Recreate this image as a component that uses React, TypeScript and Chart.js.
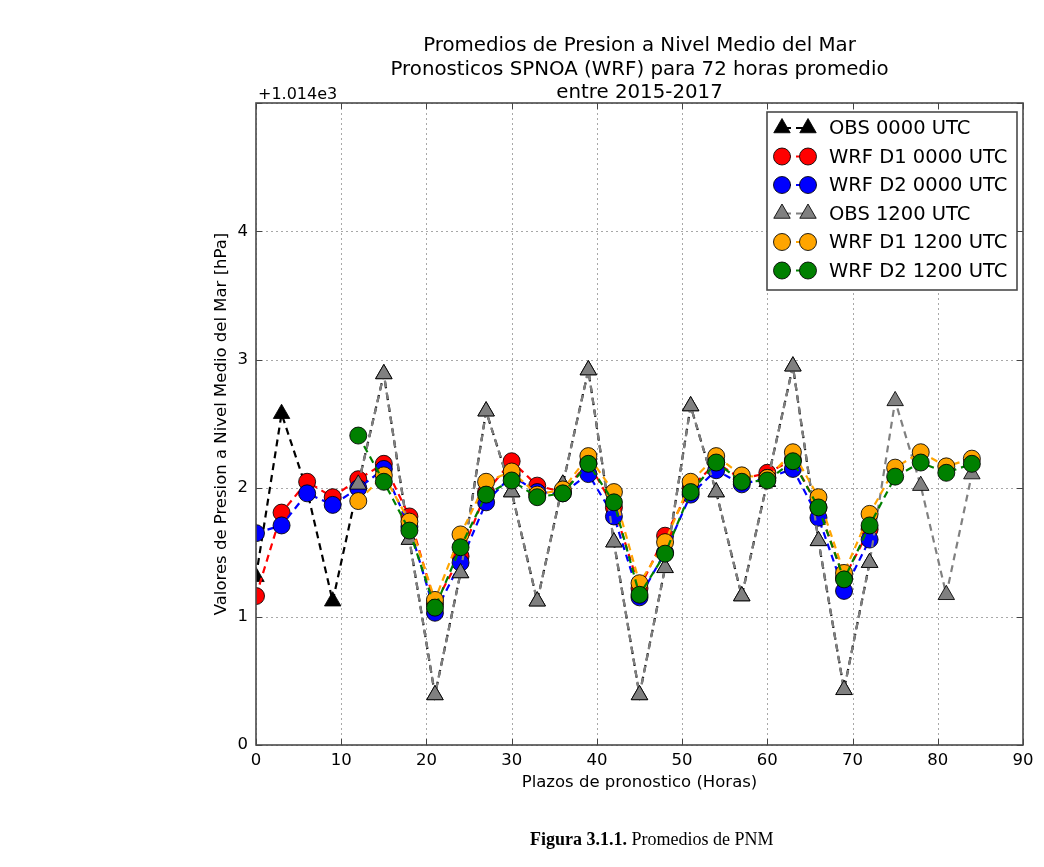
import React, { useEffect, useRef } from "react";
import { Chart, registerables } from "chart.js";
Chart.register(...registerables);

const TITLE_LINES = [
  "Promedios de Presion a Nivel Medio del Mar",
  "Pronosticos SPNOA (WRF) para 72 horas promedio",
  "entre 2015-2017",
];
const X_LABEL = "Plazos de pronostico (Horas)";
const Y_LABEL = "Valores de Presion a Nivel Medio del Mar [hPa]";
const OFFSET_TEXT = "+1.014e3";
const CAPTION_BOLD = "Figura 3.1.1.";
const CAPTION_TEXT = " Promedios de PNM";

const X_MIN = 0;
const X_MAX = 90;
const X_STEP = 10;
const Y_MIN = 0;
const Y_MAX = 5;
const Y_STEP = 1;
const Y_TICK_LABELS = ["0", "1", "2", "3", "4", ""];

const HOURS_00 = [0, 3, 6, 9, 12, 15, 18, 21, 24, 27, 30, 33, 36, 39, 42, 45, 48, 51, 54, 57, 60, 63, 66, 69, 72];
const HOURS_12 = [12, 15, 18, 21, 24, 27, 30, 33, 36, 39, 42, 45, 48, 51, 54, 57, 60, 63, 66, 69, 72, 75, 78, 81, 84];

const OBS_00 = [1.31, 2.58, 1.98, 1.12, 2.03, 2.89, 1.6, 0.39, 1.34, 2.6, 1.97, 1.12, 2.03, 2.92, 1.58, 0.39, 1.38, 2.64, 1.97, 1.16, 2.05, 2.95, 1.59, 0.43, 1.42];
const WRF_D1_00 = [1.16, 1.81, 2.05, 1.93, 2.07, 2.19, 1.78, 1.1, 1.47, 1.97, 2.21, 2.02, 1.97, 2.2, 1.85, 1.22, 1.63, 2.0, 2.2, 2.07, 2.12, 2.22, 1.85, 1.3, 1.68];
const WRF_D2_00 = [1.65, 1.71, 1.96, 1.87, 2.0, 2.15, 1.7, 1.03, 1.42, 1.89, 2.1, 1.97, 1.96, 2.11, 1.78, 1.15, 1.5, 1.95, 2.14, 2.03, 2.08, 2.15, 1.77, 1.2, 1.6];
const OBS_12 = [2.03, 2.89, 1.6, 0.39, 1.34, 2.6, 1.97, 1.12, 2.03, 2.92, 1.58, 0.39, 1.38, 2.64, 1.97, 1.16, 2.05, 2.95, 1.59, 0.43, 1.42, 2.68, 2.02, 1.17, 2.11];
const WRF_D1_12 = [1.9, 2.1, 1.74, 1.13, 1.64, 2.05, 2.13, 1.95, 1.99, 2.25, 1.97, 1.26, 1.58, 2.05, 2.25, 2.1, 2.08, 2.28, 1.93, 1.34, 1.8, 2.16, 2.28, 2.17, 2.23];
const WRF_D2_12 = [2.41, 2.05, 1.67, 1.07, 1.54, 1.95, 2.06, 1.93, 1.96, 2.19, 1.89, 1.17, 1.49, 1.97, 2.2, 2.05, 2.06, 2.21, 1.85, 1.29, 1.71, 2.09, 2.2, 2.12, 2.19];

const SERIES = [
  { label: "OBS 0000 UTC", hours: HOURS_00, values: OBS_00, color: "#000000", shape: "triangle" },
  { label: "WRF D1 0000 UTC", hours: HOURS_00, values: WRF_D1_00, color: "#ff0000", shape: "circle" },
  { label: "WRF D2 0000 UTC", hours: HOURS_00, values: WRF_D2_00, color: "#0000ff", shape: "circle" },
  { label: "OBS 1200 UTC", hours: HOURS_12, values: OBS_12, color: "#808080", shape: "triangle" },
  { label: "WRF D1 1200 UTC", hours: HOURS_12, values: WRF_D1_12, color: "#ffa500", shape: "circle" },
  { label: "WRF D2 1200 UTC", hours: HOURS_12, values: WRF_D2_12, color: "#008000", shape: "circle" },
];

const FONT = "'DejaVu Sans', sans-serif";
const CIRCLE_R = 8.5;
const TRI_R = 9.5;
const DASH = [7, 5];

function drawMarker(ctx: CanvasRenderingContext2D, shape: string, x: number, y: number, color: string) {
  ctx.save();
  ctx.fillStyle = color;
  ctx.strokeStyle = "rgba(0,0,0,0.85)";
  ctx.lineWidth = 1;
  ctx.setLineDash([]);
  ctx.beginPath();
  if (shape === "circle") {
    ctx.arc(x, y, CIRCLE_R, 0, Math.PI * 2);
  } else {
    const r = TRI_R;
    for (let k = 0; k < 3; k++) {
      const a = (k * 2 * Math.PI) / 3;
      const px = x + Math.sin(a) * r;
      const py = y - Math.cos(a) * r;
      if (k === 0) ctx.moveTo(px, py);
      else ctx.lineTo(px, py);
    }
    ctx.closePath();
  }
  ctx.fill();
  ctx.stroke();
  ctx.restore();
}

const decorPlugin = {
  id: "decor",
  beforeDatasetsDraw(chart: any) {
    const { ctx, chartArea: a, scales } = chart;
    ctx.save();
    ctx.strokeStyle = "#a8a8a8";
    ctx.lineWidth = 1;
    ctx.setLineDash([2, 3]);
    scales.x.ticks.forEach((t: any) => {
      const px = Math.round(scales.x.getPixelForValue(t.value)) + 0.5;
      ctx.beginPath();
      ctx.moveTo(px, a.top);
      ctx.lineTo(px, a.bottom);
      ctx.stroke();
    });
    scales.y.ticks.forEach((t: any) => {
      const py = Math.round(scales.y.getPixelForValue(t.value)) + 0.5;
      ctx.beginPath();
      ctx.moveTo(a.left, py);
      ctx.lineTo(a.right, py);
      ctx.stroke();
    });
    ctx.restore();
  },
  afterDraw(chart: any) {
    const { ctx, chartArea: a, scales } = chart;
    ctx.save();
    // inward ticks
    ctx.strokeStyle = "#444";
    ctx.lineWidth = 1;
    ctx.setLineDash([]);
    const TL = 6;
    scales.x.ticks.forEach((t: any) => {
      const px = Math.round(scales.x.getPixelForValue(t.value)) + 0.5;
      ctx.beginPath();
      ctx.moveTo(px, a.bottom);
      ctx.lineTo(px, a.bottom - TL);
      ctx.moveTo(px, a.top);
      ctx.lineTo(px, a.top + TL);
      ctx.stroke();
    });
    scales.y.ticks.forEach((t: any) => {
      const py = Math.round(scales.y.getPixelForValue(t.value)) + 0.5;
      ctx.beginPath();
      ctx.moveTo(a.left, py);
      ctx.lineTo(a.left + TL, py);
      ctx.moveTo(a.right, py);
      ctx.lineTo(a.right - TL, py);
      ctx.stroke();
    });
    // frame
    ctx.strokeStyle = "#4a4a4a";
    ctx.lineWidth = 1.6;
    ctx.strokeRect(a.left, a.top, a.right - a.left, a.bottom - a.top);

    // title
    ctx.fillStyle = "#000";
    ctx.textAlign = "center";
    ctx.textBaseline = "middle";
    ctx.font = `19.8px ${FONT}`;
    const cx = (a.left + a.right) / 2;
    TITLE_LINES.forEach((line, i) => ctx.fillText(line, cx, 46 + i * 23.5));

    // axis labels
    ctx.font = `16.5px ${FONT}`;
    ctx.fillText(X_LABEL, cx, 783);
    ctx.save();
    ctx.translate(222, (a.top + a.bottom) / 2);
    ctx.rotate(-Math.PI / 2);
    ctx.fillText(Y_LABEL, 0, 0);
    ctx.restore();

    // offset text
    ctx.textAlign = "left";
    ctx.font = `16px ${FONT}`;
    ctx.fillText(OFFSET_TEXT, a.left + 2, 95);

    // legend
    const lx = 767, ly = 112, lw = 250, lh = 178;
    ctx.fillStyle = "#fff";
    ctx.fillRect(lx, ly, lw, lh);
    ctx.strokeStyle = "#4a4a4a";
    ctx.lineWidth = 1.6;
    ctx.strokeRect(lx, ly, lw, lh);
    chart.data.datasets.forEach((ds: any, i: number) => {
      const y = 128 + i * 28.5;
      const m1 = 782, m2 = 808;
      ctx.save();
      ctx.strokeStyle = ds.borderColor;
      ctx.lineWidth = 2.2;
      ctx.setLineDash(DASH);
      ctx.lineDashOffset = -2;
      ctx.beginPath();
      ctx.moveTo(m1, y);
      ctx.lineTo(m2, y);
      ctx.stroke();
      ctx.restore();
      drawMarker(ctx, ds.pointStyle, m1, y, ds.borderColor);
      drawMarker(ctx, ds.pointStyle, m2, y, ds.borderColor);
      ctx.fillStyle = "#000";
      ctx.font = `19.5px ${FONT}`;
      ctx.textAlign = "left";
      ctx.textBaseline = "middle";
      ctx.fillText(ds.label, 829, y + 1);
    });
    ctx.restore();
  },
};

export default function App() {
  const ref = useRef<HTMLCanvasElement>(null);
  useEffect(() => {
    if (!ref.current) return;
    const n = SERIES.length;
    const chart = new Chart(ref.current, {
      type: "line",
      data: {
        datasets: SERIES.map((s, i) => ({
          label: s.label,
          data: s.hours.map((h, j) => ({ x: h, y: s.values[j] })),
          borderColor: s.color,
          backgroundColor: s.color,
          borderWidth: 2.2,
          borderDash: DASH,
          pointStyle: s.shape,
          pointRadius: s.shape === "circle" ? CIRCLE_R : TRI_R,
          pointBackgroundColor: s.color,
          pointBorderColor: "rgba(0,0,0,0.85)",
          pointBorderWidth: 1,
          tension: 0,
          fill: false,
          clip: 0,
          order: n - i,
        })),
      },
      options: {
        responsive: false,
        animation: false,
        events: [],
        layout: { padding: { left: 0, top: 103, right: 21, bottom: 0 } },
        plugins: { legend: { display: false }, title: { display: false }, tooltip: { enabled: false } },
        scales: {
          x: {
            type: "linear",
            min: X_MIN,
            max: X_MAX,
            grid: { display: false, drawTicks: false },
            border: { display: false },
            ticks: { stepSize: X_STEP, padding: 6, color: "#000", font: { family: FONT, size: 16.5 } },
            afterFit: (scale: any) => { scale.height = 867 - 745; },
          },
          y: {
            type: "linear",
            min: Y_MIN,
            max: Y_MAX,
            grid: { display: false, drawTicks: false },
            border: { display: false },
            ticks: {
              stepSize: Y_STEP,
              padding: 8,
              color: "#000",
              font: { family: FONT, size: 16.5 },
              callback: (v: any) => Y_TICK_LABELS[Math.round(Number(v) - Y_MIN)] ?? "",
            },
            afterFit: (scale: any) => { scale.width = 256; },
          },
        },
      },
      plugins: [decorPlugin],
    } as any);
    return () => chart.destroy();
  }, []);
  return (
    <div style={{ position: "absolute", left: 0, top: 0, width: 1044, height: 867, background: "#fff" }}>
      <canvas ref={ref} width={1044} height={867} style={{ display: "block" }} />
      <div
        style={{
          position: "absolute",
          left: 530,
          top: 829,
          whiteSpace: "nowrap",
          fontFamily: "'Liberation Serif', 'Times New Roman', serif",
          fontSize: 18,
          lineHeight: "21px",
          color: "#000",
        }}
      >
        <b>{CAPTION_BOLD}</b>
        {CAPTION_TEXT}
      </div>
    </div>
  );
}
